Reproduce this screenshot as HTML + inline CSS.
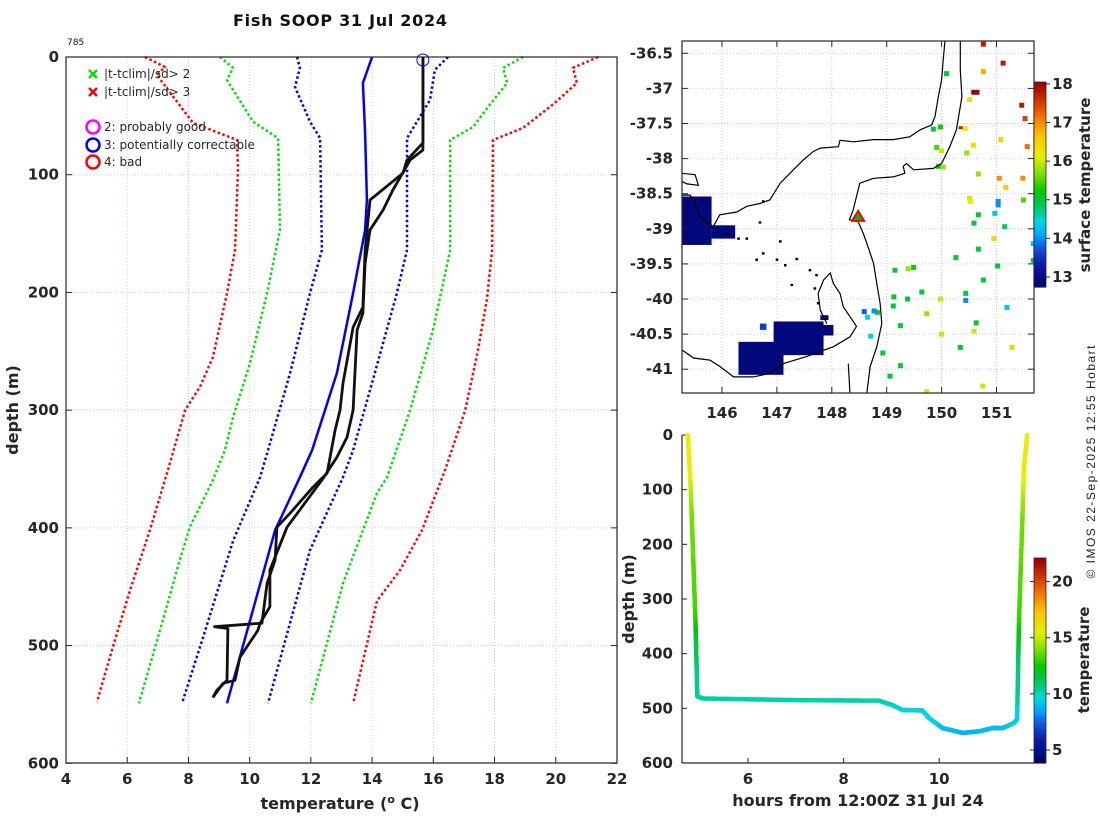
<!DOCTYPE html>
<html><head><meta charset="utf-8"><title>Fish SOOP 31 Jul 2024</title>
<style>
html,body{margin:0;padding:0;background:#fff;}
svg{display:block;font-family:"DejaVu Sans","Liberation Sans",sans-serif;}
.tk{font-size:15px;font-weight:bold;fill:#262626;}
.lg{font-size:12px;fill:#262626;}
</style></head>
<body>
<svg id="fig" width="1100" height="820" viewBox="0 0 1100 820" xmlns="http://www.w3.org/2000/svg">
<text x="340" y="26" text-anchor="middle" font-size="16" font-weight="bold" fill="#111" textLength="214">Fish SOOP 31 Jul 2024</text>
<text x="67" y="45" font-size="9" fill="#111">785</text>
<g id="left"></g>
<g id="map"></g>
<g id="traj"></g>
<text transform="translate(1095,462) rotate(-90)" text-anchor="middle" font-family="Liberation Sans, sans-serif" font-size="12" fill="#222" textLength="233">© IMOS 22-Sep-2025 12:55 Hobart</text>
</svg>
<script>
// ---------- profile plot data ----------
const redLeftDepth=[0,8.5,15.3,56,70.5,96,164,200.6,255,280,300,351,402,453,504,548];
const redLeftTemp=[6.58,7.23,6.97,8.15,9.59,9.62,9.52,9.26,8.80,8.38,7.89,7.33,6.74,6.09,5.50,5.01];
const greenLeftDepth=[0,9.3,19.5,55,69,147,200.6,260,306,334,359.5,399,427,487,549];
const greenLeftTemp=[9.03,9.46,9.26,10.11,10.93,10.99,10.57,10.01,9.46,9.19,8.80,8.05,7.72,7.07,6.38];
const blueLeftDepth=[0,9.3,25.5,55,69,164,200.6,268.5,334,357,411,493,549];
const blueLeftTemp=[11.55,11.64,11.48,11.97,12.30,12.36,11.97,11.32,10.60,10.34,9.46,8.48,7.79];
const blueRightDepth=[0,11,36.5,69,164,200.6,274,334,357,419,549];
const blueRightTemp=[16.48,16.05,15.89,15.14,15.14,14.81,14.03,13.38,13.05,11.97,10.60];
const greenRightDepth=[0,9.3,22,42.5,59.5,70.5,164,232,300,357,370.5,447,549];
const greenRightTemp=[18.93,18.28,18.41,17.79,17.30,16.55,16.55,15.99,15.24,14.49,14.16,13.05,12.00];
const redRightDepth=[0,9.3,22,39,60.3,70.5,164,206,249,300,351,402,436,462,549];
const redRightTemp=[21.38,20.56,20.69,19.97,18.93,17.95,17.92,17.75,17.46,17.04,16.38,15.63,14.91,14.16,13.38];
const climDepth=[0,22,64.6,121.5,147,200.6,268.5,334,357,402,549];
const climTemp=[14.0,13.70,13.77,13.83,13.77,13.38,12.85,12.04,11.64,10.83,9.26];
const profADepth=[0,73,87.5,98.6,121.5,164,212.5,229.5,277,300,317,353.5,365.4,387.5,399.4,427.5,447,481,484,485.5,529.5,538,544];
const profATemp=[15.66,15.66,15.14,15.01,13.93,13.77,13.70,13.38,13.05,12.95,12.79,12.53,12.07,11.32,10.89,10.83,10.57,10.40,8.85,9.29,9.26,8.93,8.80];
const profBDepth=[0,79,87.5,113,130,147,175,217.6,232,300,323,340,358,399.4,436,467,481,487,510,529.5,532,544];
const profBTemp=[15.66,15.66,15.24,14.68,14.36,13.93,13.77,13.70,13.51,13.38,13.18,12.85,12.40,11.22,10.66,10.66,10.34,10.27,9.68,9.52,9.13,8.80];
const tempTicks=[4,6,8,10,12,14,16,18,20,22];
const depthTicks=[0,100,200,300,400,500,600];
// ---------- trajectory data ----------
const trajHours=[4.74,4.80,4.85,4.90,4.94,5.06,7.0,8.74,9.02,9.23,9.65,9.79,10.07,10.49,10.84,11.12,11.33,11.56,11.63,11.67,11.74,11.77,11.84];
const trajDepth=[0,94,216,338,478,482,485,486,494,503,504,518,536,545,542,536,536,527,520,338,155,64,0];
const hourTicks=[6,8,10];
const tempCbarTicks=[5,10,15,20];
// ---------- map data ----------
const lonTicks=[146,147,148,149,150,151];
const latTicks=[-36.5,-37,-37.5,-38,-38.5,-39,-39.5,-40,-40.5,-41];
const sstCbarTicks=[13,14,15,16,17,18];
const coastVicLon=[145.28,145.42,145.51,145.60,145.84,145.96,146.27,146.45,146.69,146.87,147.06,147.30,147.48,147.66,147.79,148.12,148.15,148.39,148.76,149.12,149.42,149.61,149.82,149.88,149.94,150.00,150.03,150.06];
const coastVicLat=[-38.52,-38.52,-38.64,-38.83,-38.97,-38.80,-38.76,-38.68,-38.64,-38.59,-38.35,-38.16,-38.02,-37.90,-37.85,-37.83,-37.74,-37.76,-37.73,-37.73,-37.69,-37.59,-37.52,-37.40,-37.12,-36.88,-36.60,-36.33];
const coastBayLon=[145.28,145.51,145.57,145.36,145.28];
const coastBayLat=[-38.21,-38.23,-38.38,-38.36,-38.33];
const shelfLon=[150.34,150.34,150.37,150.27,150.15,150.00,149.85,149.49,149.36,149.30,149.33,149.12,148.76,148.51,148.45,148.39,148.32,148.48,148.57,148.64,148.76,148.82,148.88,148.91,148.82,148.70,148.64];
const shelfLat=[-36.33,-36.74,-37.12,-37.59,-37.83,-38.07,-38.14,-38.16,-38.07,-38.11,-38.21,-38.26,-38.28,-38.35,-38.54,-38.73,-38.87,-38.90,-39.06,-39.21,-39.49,-39.78,-40.06,-40.35,-40.68,-40.96,-41.33];
const tasLon=[145.28,145.48,145.78,145.96,146.21,146.57,146.87,147.12,147.54,148.03,148.33,148.45,148.33,148.21,148.15,148.03,147.97,147.85,147.75,147.79,147.91];
const tasLat=[-40.73,-40.84,-40.87,-40.96,-41.11,-41.11,-41.06,-40.92,-40.82,-40.68,-40.54,-40.39,-40.25,-40.11,-39.92,-39.78,-39.63,-39.73,-39.92,-40.16,-40.35];
const tasEastLon=[148.30,148.33];
const tasEastLat=[-40.92,-41.33];
const islandLon=[146.75,146.69,147.06,147.00,146.63,147.36,147.15,147.27,147.60,147.72,147.69,147.75,146.75,146.45,146.09,146.30];
const islandLat=[-38.61,-38.91,-39.18,-39.44,-39.44,-39.43,-39.52,-39.80,-39.59,-39.66,-39.85,-40.06,-39.35,-39.14,-39.07,-39.14];
const blobLon0=[145.28,145.81,146.30,146.94,147.30,147.79,146.69,150.54,150.31];
const blobLon1=[145.81,146.24,147.12,147.85,148.03,147.94,146.81,150.69,150.43];
const blobLatTop=[-38.54,-38.95,-40.61,-40.32,-40.37,-40.23,-40.35,-37.02,-37.54];
const blobLatBot=[-39.23,-39.14,-41.08,-40.80,-40.52,-40.30,-40.44,-37.09,-37.58];
const blobTemp=[12.9,12.9,12.9,12.9,12.9,12.9,13.6,18.0,17.8];
const cellLon=[149.85,149.98,149.91,150.00,149.94,150.03,150.43,150.46,150.58,150.67,150.51,150.53,150.67,150.59,151.03,151.03,150.97,151.15,151.08,151.05,151.17,151.48,151.49,151.56,151.46,151.52,150.76,150.76,151.12,150.51,150.26,149.15,149.49,149.39,149.64,149.38,149.12,149.13,149.98,150.44,150.44,151.19,149.73,149.25,148.83,148.71,148.65,148.59,148.77,150.00,150.59,150.34,149.25,148.93,149.06,149.73,150.76,150.67,151.02,151.67,151.67,150.95,151.28,150.63,150.09,150.75];
const cellLat=[-37.58,-37.55,-37.84,-37.89,-38.11,-38.12,-37.57,-37.92,-37.81,-38.22,-38.57,-38.61,-38.80,-38.92,-38.61,-38.66,-38.78,-38.97,-37.73,-38.28,-38.41,-38.28,-38.59,-37.83,-37.24,-37.43,-36.37,-36.76,-36.64,-37.16,-39.41,-39.59,-39.55,-39.57,-39.90,-40.00,-40.10,-39.97,-40.00,-39.92,-40.02,-40.12,-40.21,-40.38,-40.19,-40.53,-40.26,-40.18,-40.17,-40.50,-40.46,-40.69,-40.95,-40.77,-41.10,-41.32,-39.73,-39.29,-39.53,-39.21,-39.45,-39.14,-40.69,-40.34,-36.79,-41.24];
const cellTemp=[15,15.3,15.5,16,15,15.8,16.2,15.8,16.3,15.8,16,16.2,15,15,14,14,14.3,14.8,16.5,17,16.6,17,15.5,17.2,17.8,17.5,17.8,16.8,17.8,16.3,15,15,15.3,15.8,15,15,15,15,16,15,14,14.3,15.8,15,15,14.5,14.5,13.8,14,16,16,15,15,15,15,16,15,15,15,14.3,15,16.5,16,15,15,16];
const shipLon=148.48, shipLat=-38.83;

const NS='http://www.w3.org/2000/svg';
function mk(tag,attrs,parent){const e=document.createElementNS(NS,tag);for(const k in attrs)e.setAttribute(k,attrs[k]);parent.appendChild(e);return e;}
const CM=[[0,0,0,110],[0.12,10,30,170],[0.2,20,90,230],[0.26,0,170,255],[0.32,0,215,225],[0.4,0,200,90],[0.47,0,200,0],[0.56,130,225,0],[0.64,230,240,0],[0.74,255,195,0],[0.84,240,110,0],[0.93,200,40,0],[1,150,0,0]];
function jet(f){f=Math.max(0,Math.min(1,f));for(let i=1;i<CM.length;i++){if(f<=CM[i][0]){const a=CM[i-1],b=CM[i],u=(f-a[0])/(b[0]-a[0]);return `rgb(${Math.round(a[1]+u*(b[1]-a[1]))},${Math.round(a[2]+u*(b[2]-a[2]))},${Math.round(a[3]+u*(b[3]-a[3]))})`;}}return 'rgb(150,0,0)';}
const gridC='#c9cce6';

// ================= LEFT PROFILE PLOT =================
const L=document.getElementById('left');
const xL=t=>66+(t-4)*(551/18), yL=d=>57+d*(706.3/600);
tempTicks.forEach(t=>{
  const g=mk('line',{x1:xL(t),x2:xL(t),y1:57,y2:763,stroke:(t%4===2?'#e8c8c0':gridC),'stroke-width':1,'stroke-dasharray':'1 2'},L);
  
  const tk=mk('line',{x1:xL(t),x2:xL(t),y1:763,y2:757,stroke:'#262626'},L);
  
  const tx=mk('text',{x:xL(t),y:784,'text-anchor':'middle',class:'tk'},L);tx.textContent=t;
  
});
depthTicks.forEach(d=>{
  const g=mk('line',{x1:66,x2:617,y1:yL(d),y2:yL(d),stroke:gridC,'stroke-dasharray':'1 2'},L);
  
  const tk=mk('line',{x1:66,x2:72,y1:yL(d),y2:yL(d),stroke:'#262626'},L);
  
  const tk2=mk('line',{x1:611,x2:617,y1:yL(d),y2:yL(d),stroke:'#262626'},L);
  
  const tx=mk('text',{x:59,y:yL(d)+5,'text-anchor':'end',class:'tk'},L);tx.textContent=d;
  
});
function poly(par,ts,ds,color,dotted,w,name){
  const p=ts.map((t,i)=>xL(t).toFixed(1)+','+yL(ds[i]).toFixed(1)).join(' ');
  const e=mk('polyline',{points:p,fill:'none',stroke:color,'stroke-width':w,'stroke-linejoin':'round'},par);
  if(dotted)e.setAttribute('stroke-dasharray','2.5 2.5');
  
}
poly(L,redLeftTemp,redLeftDepth,'#ff0000',true,2.5,'clim-3sd-lower');
poly(L,greenLeftTemp,greenLeftDepth,'#00e000',true,2.5,'clim-2sd-lower');
poly(L,blueLeftTemp,blueLeftDepth,'#0000ff',true,2.5,'clim-1sd-lower');
poly(L,blueRightTemp,blueRightDepth,'#0000ff',true,2.5,'clim-1sd-upper');
poly(L,greenRightTemp,greenRightDepth,'#00e000',true,2.5,'clim-2sd-upper');
poly(L,redRightTemp,redRightDepth,'#ff0000',true,2.5,'clim-3sd-upper');
poly(L,climTemp,climDepth,'#0000ff',false,2.5,'clim-mean');
poly(L,profATemp,profADepth,'#111',false,2.8,'profile-a');
poly(L,profBTemp,profBDepth,'#111',false,2.8,'profile-b');
const qc=mk('circle',{cx:xL(profATemp[0]),cy:yL(0)+3,r:6,fill:'none',stroke:'#0000ff','stroke-width':1},L);

const box=mk('rect',{x:66,y:57,width:551,height:706,fill:'none',stroke:'#262626','stroke-width':1.2},L);

const xt=mk('text',{x:340,y:809,'text-anchor':'middle','font-size':16,'font-weight':'bold',fill:'#262626'},L);
xt.innerHTML='temperature (<tspan dy="-6" font-size="11">o</tspan><tspan dy="6"> C)</tspan>';

const yt=mk('text',{transform:'translate(18,410) rotate(-90)','text-anchor':'middle','font-size':16,'font-weight':'bold',fill:'#262626'},L);yt.textContent='depth (m)';

// legend
const LG=mk('g',{},L);
[['#00e000',74,'|t-tclim|/sd> 2'],['#ff0000',92,'|t-tclim|/sd> 3']].forEach(([c,y,s])=>{
  const g=mk('g',{},LG);
  mk('path',{d:`M89 ${y-4} l8 8 M97 ${y-4} l-8 8`,stroke:c,'stroke-width':2.5},g);
  const t=mk('text',{x:104,y:y+4,class:'lg'},g);t.textContent=s;
});
[['#ff00ff',127,'2: probably good'],['#0000ff',145,'3: potentially correctable'],['#ff0000',162,'4: bad']].forEach(([c,y,s])=>{
  const g=mk('g',{},LG);
  mk('circle',{cx:93,cy:y,r:6.5,fill:'none',stroke:c,'stroke-width':2.5},g);
  const t=mk('text',{x:104,y:y+4,class:'lg'},g);t.textContent=s;
});

// ================= MAP =================
const M=document.getElementById('map');
const xM=lon=>722+(lon-146)*54.9, yM=lat=>53.3+(-36.5-lat)*70.2;
const defs=mk('defs',{},M);const cp=mk('clipPath',{id:'mapclip'},defs);mk('rect',{x:682,y:41,width:352,height:352},cp);
const MC=mk('g',{'clip-path':'url(#mapclip)'},M);
lonTicks.forEach(l=>{
  const g=mk('line',{x1:xM(l),x2:xM(l),y1:41,y2:393,stroke:gridC,'stroke-dasharray':'1 2'},MC);
  
  mk('line',{x1:xM(l),x2:xM(l),y1:393,y2:387,stroke:'#262626'},M);
  mk('line',{x1:xM(l),x2:xM(l),y1:41,y2:47,stroke:'#262626'},M);
  const t=mk('text',{x:xM(l),y:418,'text-anchor':'middle',class:'tk'},M);t.textContent=l;
  
});
latTicks.forEach(l=>{
  const g=mk('line',{x1:682,x2:1034,y1:yM(l),y2:yM(l),stroke:gridC,'stroke-dasharray':'1 2'},MC);
  
  mk('line',{x1:682,x2:688,y1:yM(l),y2:yM(l),stroke:'#262626'},M);
  mk('line',{x1:1028,x2:1034,y1:yM(l),y2:yM(l),stroke:'#262626'},M);
  const t=mk('text',{x:673,y:yM(l)+5,'text-anchor':'end',class:'tk'},M);t.textContent=l;
  
});
const sstF=t=>(t-12.74)/(18.05-12.74);
blobTemp.forEach((t,i)=>{
  const r=mk('rect',{x:xM(blobLon0[i]),y:yM(blobLatTop[i]),width:xM(blobLon1[i])-xM(blobLon0[i]),height:yM(blobLatBot[i])-yM(blobLatTop[i]),fill:jet(sstF(t))},MC);
  
});
cellTemp.forEach((t,i)=>{
  const r=mk('rect',{x:xM(cellLon[i])-2.5,y:yM(cellLat[i])-2.5,width:5,height:5,fill:jet(sstF(t))},MC);
  
});
function coast(lons,lats,name){
  const p=lons.map((l,i)=>xM(l).toFixed(1)+','+yM(lats[i]).toFixed(1)).join(' ');
  const e=mk('polyline',{points:p,fill:'none',stroke:'#000','stroke-width':1.2},MC);
  
}
coast(coastVicLon,coastVicLat,'coastline-victoria');
coast(coastBayLon,coastBayLat,'coastline-bay');
coast(shelfLon,shelfLat,'shelf-contour');
coast(tasLon,tasLat,'coastline-tasmania');
coast(tasEastLon,tasEastLat,'coastline-tasmania-east');
islandLon.forEach((l,i)=>{
  const r=mk('rect',{x:xM(l)-1.2,y:yM(islandLat[i])-1.2,width:2.6,height:2.4,fill:'#000'},MC);
  
});
const sx=xM(shipLon),sy=yM(shipLat);
const tri=mk('path',{d:`M${sx} ${sy-6} L${sx+6} ${sy+4} L${sx-6} ${sy+4} Z`,fill:'#00c000',stroke:'#ff0000','stroke-width':2},M);

const mb=mk('rect',{x:682,y:41,width:352,height:352,fill:'none',stroke:'#262626','stroke-width':1.2},M);

// map colorbar
const cb1=mk('g',{},M);
for(let i=0;i<64;i++){mk('rect',{x:1034,y:82+205*(63-i)/64,width:12,height:205/64+0.6,fill:jet((i+0.5)/64)},cb1);}
mk('rect',{x:1034,y:82,width:12,height:205,fill:'none',stroke:'#262626','stroke-width':0.8},cb1);
const yC1=t=>287-(t-12.74)/(18.05-12.74)*205;
sstCbarTicks.forEach(t=>{
  mk('line',{x1:1046,x2:1050,y1:yC1(t),y2:yC1(t),stroke:'#262626'},cb1);
  const tx=mk('text',{x:1052,y:yC1(t)+5,class:'tk'},cb1);tx.textContent=t;
  
});
const st=mk('text',{transform:'translate(1090,185) rotate(-90)','text-anchor':'middle','font-size':15,'font-weight':'bold',fill:'#262626'},M);st.textContent='surface temperature';


// ================= TRAJECTORY PLOT =================
const T=document.getElementById('traj');
const xB=h=>748+(h-6)*47.8, yB=d=>435+d*(328/600);
const yC2=t=>763-(t-3.84)/(22.1-3.84)*205;
depthTicks.forEach(d=>{
  mk('line',{x1:682,x2:687,y1:yB(d),y2:yB(d),stroke:'#262626'},T);
  const t=mk('text',{x:673,y:yB(d)+5,'text-anchor':'end',class:'tk'},T);t.textContent=d;
  
});
hourTicks.forEach(h=>{
  mk('line',{x1:xB(h),x2:xB(h),y1:763,y2:758,stroke:'#262626'},T);
  const t=mk('text',{x:xB(h),y:784,'text-anchor':'middle',class:'tk'},T);t.textContent=h;
  
});
function interpT(d){const D=profBDepth,V=profBTemp;if(d<=D[0])return V[0];for(let i=1;i<D.length;i++){if(d<=D[i]){const f=(d-D[i-1])/(D[i]-D[i-1]);return V[i-1]+f*(V[i]-V[i-1]);}}return V[V.length-1];}
const TG=mk('g',{'stroke-linecap':'round'},T);
for(let i=1;i<trajHours.length;i++){
  const n=20;
  for(let k=0;k<n;k++){
    const a=k/n,b=(k+1)/n;
    const h0=trajHours[i-1]+(trajHours[i]-trajHours[i-1])*a,h1=trajHours[i-1]+(trajHours[i]-trajHours[i-1])*b;
    const d0=trajDepth[i-1]+(trajDepth[i]-trajDepth[i-1])*a,d1=trajDepth[i-1]+(trajDepth[i]-trajDepth[i-1])*b;
    const tm=interpT((d0+d1)/2);
    mk('line',{x1:xB(h0),y1:yB(d0),x2:xB(h1),y2:yB(d1),stroke:jet((tm-3.84)/(22.1-3.84)),'stroke-width':4.5},TG);
  }
}
mk('line',{x1:682,x2:682,y1:435,y2:763,stroke:'#262626','stroke-width':1.2},T);
mk('line',{x1:682,x2:1034,y1:763,y2:763,stroke:'#262626','stroke-width':1.2},T);
const cb2=mk('g',{},T);
for(let i=0;i<64;i++){mk('rect',{x:1034,y:558+205*(63-i)/64,width:12,height:205/64+0.6,fill:jet((i+0.5)/64)},cb2);}
mk('rect',{x:1034,y:558,width:12,height:205,fill:'none',stroke:'#262626','stroke-width':0.8},cb2);
tempCbarTicks.forEach(t=>{
  mk('line',{x1:1030,x2:1034,y1:yC2(t),y2:yC2(t),stroke:'#262626'},cb2);
  mk('line',{x1:1046,x2:1050,y1:yC2(t),y2:yC2(t),stroke:'#262626'},cb2);
  const tx=mk('text',{x:1052,y:yC2(t)+5,class:'tk'},cb2);tx.textContent=t;
  
});
const tt=mk('text',{transform:'translate(1089,660) rotate(-90)','text-anchor':'middle','font-size':15,'font-weight':'bold',fill:'#262626'},T);tt.textContent='temperature';

const bx=mk('text',{x:858,y:806,'text-anchor':'middle','font-size':16,'font-weight':'bold',fill:'#262626'},T);bx.textContent='hours from 12:00Z 31 Jul 24';

const by=mk('text',{transform:'translate(634,599) rotate(-90)','text-anchor':'middle','font-size':16,'font-weight':'bold',fill:'#262626'},T);by.textContent='depth (m)';

</script>
</body></html>
